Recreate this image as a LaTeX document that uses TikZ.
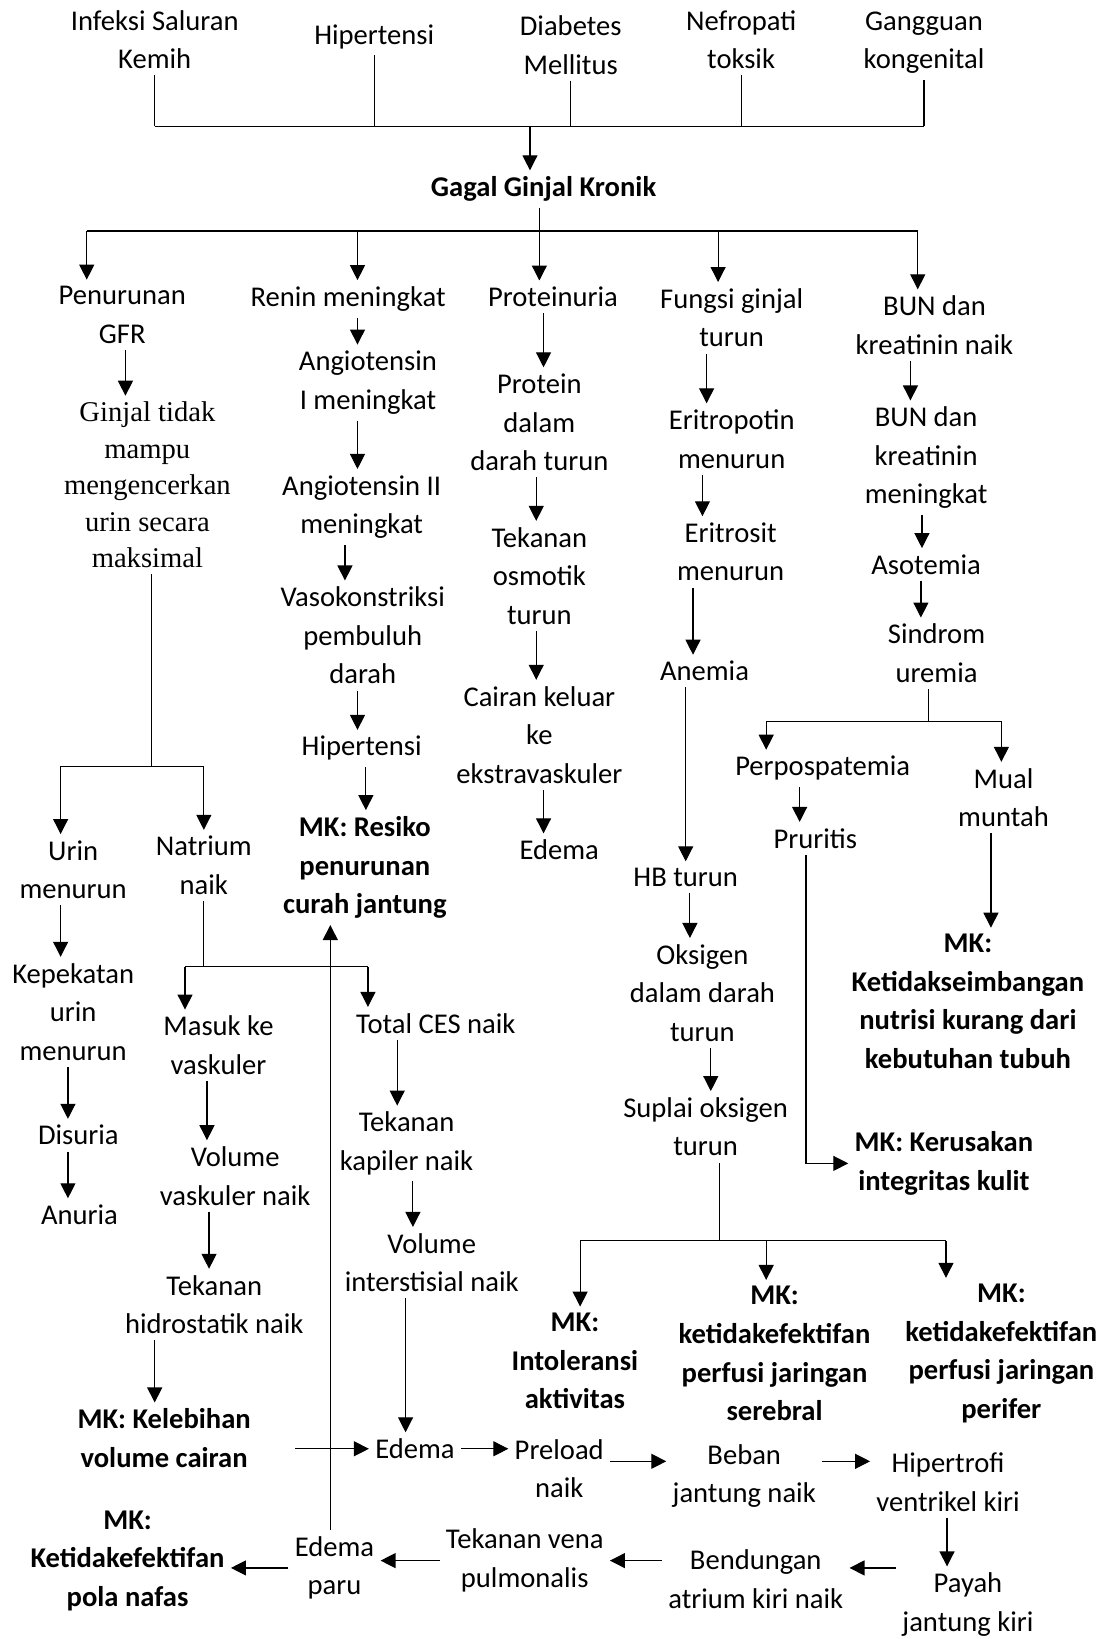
\documentclass[tikz,border=0pt]{standalone}
\usepackage{fontspec}
\setmainfont{Carlito}
\newfontfamily\timesrm{Liberation Serif}
\usetikzlibrary{arrows.meta,calc}

\begin{document}
\begin{tikzpicture}[
    x=0.5226pt, y=-0.5226pt,
    lbl/.style={align=center, inner sep=3pt, font=\fontsize{14.3}{19.3}\selectfont},
    mk/.style={lbl, font=\fontsize{14.3}{19.3}\selectfont\bfseries},
    lblserif/.style={lbl, font=\fontsize{14.3}{18.2}\selectfont\timesrm},
    ln/.style={line width=0.6pt},
    arr/.style={ln, -{Triangle[length=7.5pt,width=7.5pt]}}]
\useasboundingbox (0,0) rectangle (1064,1568);

% penyebab
\node[lbl] (is) at (148,38) {Infeksi Saluran\\Kemih};
\node[lbl] (ht0) at (358,35) {Hipertensi};
\node[lbl] (dm) at (546,43) {Diabetes\\Mellitus};
\node[lbl] (nt0) at (709,38) {Nefropati\\toksik};
\node[lbl] (gk) at (884,41) {Gangguan\\kongenital};
\node[mk] (ggk) at (520,181) {Gagal Ginjal Kronik};

% cabang utama
\node[lbl] (pg) at (117,301) {Penurunan\\GFR};
\node[lbl] (rm) at (333,286) {Renin meningkat};
\node[lbl] (pu) at (529,284) {Proteinuria};
\node[lbl] (fg) at (700,304) {Fungsi ginjal\\turun};
\node[lbl] (bk) at (894,311) {BUN dan\\kreatinin naik};

% GFR
\node[lblserif] (gt) at (141,464) {Ginjal tidak\\mampu\\mengencerkan\\urin secara\\maksimal};
\node[lbl] (ur) at (70,832) {Urin\\menurun};
\node[lbl] (na) at (195,828) {Natrium\\naik};
\node[lbl] (kp) at (70,968) {Kepekatan\\urin\\menurun};
\node[lbl] (ds) at (75,1086) {Disuria};
\node[lbl] (an) at (76,1162) {Anuria};
\node[lbl] (mv) at (209,1000) {Masuk ke\\vaskuler};
\node[lbl] (tc) at (417,979) {Total CES naik};
\node[lbl] (vv) at (225,1125) {Volume\\vaskuler naik};
\node[lbl] (th) at (205,1248) {Tekanan\\hidrostatik naik};
\node[mk] (kv) at (157,1376) {MK: Kelebihan\\volume cairan};
\node[lbl] (tk) at (389,1094) {Tekanan\\kapiler naik};
\node[lbl] (vi) at (413,1208) {Volume\\interstisial naik};
\node[lbl] (ed) at (397,1386) {Edema};

% renin
\node[lbl] (a1) at (352,366) {Angiotensin\\I meningkat};
\node[lbl] (a2) at (346,485) {Angiotensin II\\meningkat};
\node[lbl] (vk) at (347,608) {Vasokonstriksi\\pembuluh\\darah};
\node[lbl] (ht) at (346,716) {Hipertensi};
\node[mk] (rk) at (349,830) {MK: Resiko\\penurunan\\curah jantung};

% proteinuria
\node[lbl] (pd) at (516,404) {Protein\\dalam\\darah turun};
\node[lbl] (to) at (516,551) {Tekanan\\osmotik\\turun};
\node[lbl] (ck) at (516,703) {Cairan keluar\\ke\\ekstravaskuler};
\node[lbl] (ed2) at (535,813) {Edema};

% fungsi ginjal
\node[lbl] (er) at (700,420) {Eritropotin\\menurun};
\node[lbl] (es) at (699,528) {Eritrosit\\menurun};
\node[lbl] (am) at (674,642) {Anemia};
\node[lbl] (hb) at (656,839) {HB turun};
\node[lbl] (od) at (672,950) {Oksigen\\dalam darah\\turun};
\node[lbl] (so) at (675,1078) {Suplai oksigen\\turun};
\node[mk] (mi) at (550,1302) {MK:\\Intoleransi\\aktivitas};
\node[mk] (ms) at (741,1295) {MK:\\ketidakefektifan\\perfusi jaringan\\serebral};
\node[mk] (mp) at (958,1295) {MK:\\ketidakefektifan\\perfusi jaringan\\perifer};

% BUN
\node[lbl] (bm) at (886,438) {BUN dan\\kreatinin\\meningkat};
\node[lbl] (as) at (886,540) {Asotemia};
\node[lbl] (su) at (896,625) {Sindrom\\uremia};
\node[lbl] (pp) at (787,735) {Perpospatemia};
\node[lbl] (mm) at (960,763) {Mual\\muntah};
\node[lbl] (pr) at (780,802) {Pruritis};
\node[mk] (nk) at (926,958) {MK:\\Ketidakseimbangan\\nutrisi kurang dari\\kebutuhan tubuh};
\node[mk] (ki) at (903,1113) {MK: Kerusakan\\integritas kulit};

% jantung
\node[lbl] (pl) at (535,1405) {Preload\\naik};
\node[lbl] (bj) at (712,1412) {Beban\\jantung naik};
\node[lbl] (hv) at (907,1418) {Hipertrofi\\ventrikel kiri};
\node[lbl] (pj) at (926,1535) {Payah\\jantung kiri};
\node[lbl] (ba) at (723,1511) {Bendungan\\atrium kiri naik};
\node[lbl] (tv) at (502,1493) {Tekanan vena\\pulmonalis};
\node[lbl] (ep) at (320,1500) {Edema\\paru};
\node[mk] (pn) at (122,1493) {MK:\\Ketidakefektifan\\pola nafas};

% garis penyebab
\coordinate (j0) at (507,121);
\draw[ln] (is.south) -- (is.south |- j0);
\draw[ln] (ht0.south) -- (ht0.south |- j0);
\draw[ln] (dm.south) -- (dm.south |- j0);
\draw[ln] (nt0.south) -- (nt0.south |- j0);
\draw[ln] (gk.south) -- (gk.south |- j0);
\draw[ln] (is.south |- j0) -- (gk.south |- j0);
\draw[arr] (j0) -- (j0 |- ggk.north);

\coordinate (j1) at (516,221);
\draw[ln] (ggk.south -| j1) -- (j1);
\draw[ln] (j1 -| 83,0) -- (j1 -| 878,0);
\draw[arr] (j1 -| 83,0) -- (pg.north -| 83,0);
\draw[arr] (j1 -| 342,0) -- (rm.north -| 342,0);
\draw[arr] (j1) -- (pu.north -| j1);
\draw[arr] (j1 -| 687,0) -- (fg.north -| 687,0);
\draw[arr] (j1 -| 878,0) -- (bk.north -| 878,0);

% GFR
\draw[arr] (pg.south -| 120,0) -- (gt.north -| 120,0);
\coordinate (j2) at (145,733);
\draw[ln] (gt.south -| j2) -- (j2);
\draw[ln] (j2 -| 58,0) -- (j2 -| 195,0);
\draw[arr] (j2 -| 58,0) -- (ur.north -| 58,0);
\draw[arr] (j2 -| 195,0) -- (na.north -| 195,0);
\draw[arr] (ur.south -| 58,0) -- (kp.north -| 58,0);
\draw[arr] (kp.south -| 65,0) -- (ds.north -| 65,0);
\draw[arr] (ds.south -| 65,0) -- (an.north -| 65,0);
\coordinate (j3) at (195,925);
\draw[ln] (na.south -| j3) -- (j3);
\draw[ln] (j3 -| 177,0) -- (j3 -| 352,0);
\draw[arr] (j3 -| 177,0) -- (mv.north -| 177,0);
\draw[arr] (j3 -| 352,0) -- (tc.north -| 352,0);
\draw[arr] (mv.south -| 198,0) -- (vv.north -| 198,0);
\draw[arr] (vv.south -| 200,0) -- (th.north -| 200,0);
\draw[arr] (th.south -| 148,0) -- (kv.north -| 148,0);
\draw[arr] (tc.south -| 380,0) -- (tk.north -| 380,0);
\draw[arr] (tk.south -| 395,0) -- (vi.north -| 395,0);
\draw[arr] (vi.south -| 388,0) -- (ed.north -| 388,0);

% renin
\draw[arr] (rm.south -| 342,0) -- (a1.north -| 342,0);
\draw[arr] (a1.south -| 342,0) -- (a2.north -| 342,0);
\draw[arr] (a2.south -| 330,0) -- (vk.north -| 330,0);
\draw[arr] (vk.south -| 342,0) -- (ht.north -| 342,0);
\draw[arr] (ht.south -| 350,0) -- (rk.north -| 350,0);

% proteinuria
\draw[arr] (pu.south -| 520,0) -- (pd.north -| 520,0);
\draw[arr] (pd.south -| 513,0) -- (to.north -| 513,0);
\draw[arr] (to.south -| 513,0) -- (ck.north -| 513,0);
\draw[arr] (ck.south -| 520,0) -- (ed2.north -| 520,0);

% fungsi ginjal
\draw[arr] (fg.south -| 676,0) -- (er.north -| 676,0);
\draw[arr] (er.south -| 672,0) -- (es.north -| 672,0);
\draw[arr] (es.south -| 663,0) -- (am.north -| 663,0);
\draw[arr] (am.south -| 656,0) -- (hb.north -| 656,0);
\draw[arr] (hb.south -| 660,0) -- (od.north -| 660,0);
\draw[arr] (od.south -| 680,0) -- (so.north -| 680,0);
\coordinate (j5) at (688,1187);
\draw[ln] (so.south -| j5) -- (j5);
\draw[ln] (j5 -| 555,0) -- (j5 -| 905,0);
\draw[arr] (j5 -| 555,0) -- (mi.north -| 555,0);
\draw[arr] (j5 -| 733,0) -- (ms.north -| 733,0);
\draw[arr] (j5 -| 905,0) -- (mp.north -| 905,0);

% BUN
\draw[arr] (bk.south -| 871,0) -- (bm.north -| 871,0);
\draw[arr] (bm.south -| 882,0) -- (as.north -| 882,0);
\draw[arr] (as.south -| 881,0) -- (su.north -| 881,0);
\coordinate (j6) at (888,690);
\draw[ln] (su.south -| j6) -- (j6);
\draw[ln] (j6 -| 733,0) -- (j6 -| 958,0);
\draw[arr] (j6 -| 733,0) -- (pp.north -| 733,0);
\draw[arr] (j6 -| 958,0) -- (mm.north -| 958,0);
\draw[arr] (pp.south -| 765,0) -- (pr.north -| 765,0);
\draw[arr] (pr.south -| 771,0) |- (ki);
\draw[arr] (mm.south -| 948,0) -- (nk.north -| 948,0);

% jantung
\draw[arr, shorten <=19pt] (kv.east |- ed) -- (ed);
\draw[arr] (ed) -- (pl.west |- ed);
\draw[arr] ($(pl.east)+(0,-7)$) -- ($(bj.west |- pl.east)+(0,-7)$);
\draw[arr] ($(bj.east)+(0,-14)$) -- ($(hv.west |- bj.east)+(0,-14)$);
\draw[arr] (hv.south -| 906,0) -- (pj.north -| 906,0);
\draw[arr] ($(pj.west |- ba.east)+(0,-11)$) -- ($(ba.east)+(0,-11)$);
\draw[arr] (ba.west |- tv) -- (tv);
\draw[arr] (tv) -- (ep.east |- tv);
\draw[arr] (ep) -- (pn.east |- ep);
\draw[arr] (ep.north -| 316,0) -- (rk.south -| 316,0);
\end{tikzpicture}
\end{document}
